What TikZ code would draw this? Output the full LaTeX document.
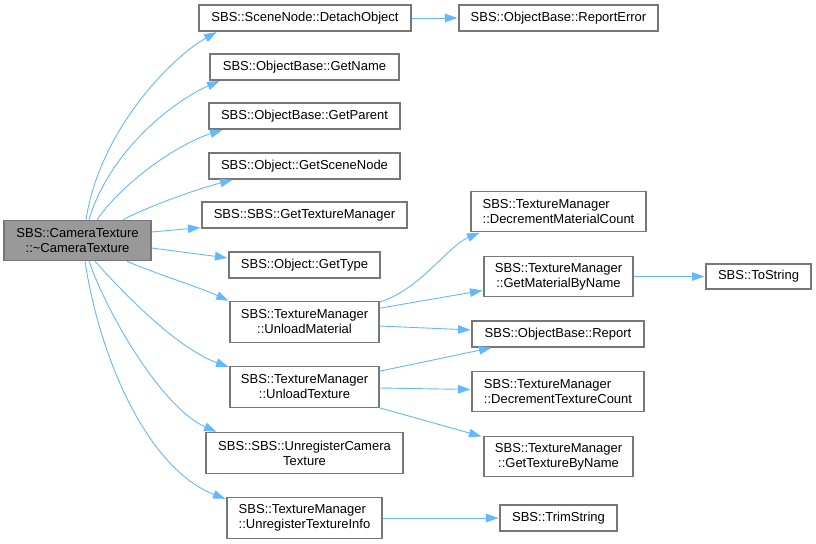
\documentclass[tikz,border=0pt]{standalone}
\usepackage{fontspec}
\setmainfont{Liberation Sans}
\usetikzlibrary{arrows.meta,calc}
\definecolor{edgeblue}{HTML}{63B8FF}
\definecolor{boxline}{HTML}{777777}
\definecolor{rootfill}{HTML}{999999}
\tikzset{
  fn/.style={draw=boxline, line width=1.1bp, fill=white, inner sep=0pt, minimum height=26bp, font=\fontsize{13bp}{15bp}\selectfont, text=black},
  fn2/.style={fn, minimum height=40.5bp, align=center},
  fnl/.style={fn, minimum height=40.5bp, align=left},
  call/.style={draw=edgeblue, line width=0.9bp, -{Triangle[length=12.5bp,width=8.5bp]}, shorten >=1bp}
}
\begin{document}
\begin{tikzpicture}[x=1bp,y=-1bp]
\useasboundingbox (0,0) rectangle (816,544);
% nodes
\node[fn2, fill=rootfill, minimum width=147bp] (A) at (77.5,240.5) {SBS::CameraTexture\\::\textasciitilde CameraTexture};
\node[fn, minimum width=212bp] (DO) at (305,18) {SBS::SceneNode::DetachObject};
\node[fn, minimum width=189bp] (GN) at (304.5,67) {SBS::ObjectBase::GetName};
\node[fn, minimum width=191bp] (GP) at (304.5,116) {SBS::ObjectBase::GetParent};
\node[fn, minimum width=191bp] (GSN) at (304.5,166) {SBS::Object::GetSceneNode};
\node[fn, minimum width=205bp] (GTM) at (304.5,215) {SBS::SBS::GetTextureManager};
\node[fn, minimum width=151bp] (GT) at (304.5,265) {SBS::Object::GetType};
\node[fn2, minimum width=149bp] (UM) at (304.5,322) {SBS::TextureManager\\::UnloadMaterial};
\node[fn2, minimum width=149bp] (UT) at (304.5,387) {SBS::TextureManager\\::UnloadTexture};
\node[fn2, minimum width=197bp] (UCT) at (304.5,453) {SBS::SBS::UnregisterCamera\\Texture};
\node[fnl, minimum width=155bp] (UTI) at (304.5,518) {SBS::TextureManager\\::UnregisterTextureInfo};
\node[fn, minimum width=199bp] (RE) at (558.5,18) {SBS::ObjectBase::ReportError};
\node[fnl, minimum width=175bp] (DMC) at (558.5,211.5) {SBS::TextureManager\\::DecrementMaterialCount};
\node[fn2, minimum width=149bp] (GMN) at (558.5,276.5) {SBS::TextureManager\\::GetMaterialByName};
\node[fn, minimum width=105bp, minimum height=25bp] (TS) at (758.5,276.5) {SBS::ToString};
\node[fn, minimum width=172bp] (R) at (558,334) {SBS::ObjectBase::Report};
\node[fnl, minimum width=172bp] (DTC) at (558,391.5) {SBS::TextureManager\\::DecrementTextureCount};
\node[fn2, minimum width=149bp] (GTBN) at (558.5,456.5) {SBS::TextureManager\\::GetTextureByName};
\node[fn, minimum width=117bp] (TRS) at (558.5,518) {SBS::TrimString};
% edges from root
\draw[call] ($(A.north)+(8.5,0)$) .. controls +(14,-90) and +(-46,26) .. ($(DO.south west)+(19,0)$);
\draw[call] ($(A.north)+(11.5,0)$) .. controls +(21,-70) and +(-46,20) .. ($(GN.south west)+(11,0)$);
\draw[call] ($(A.north)+(19.5,0)$) .. controls +(28,-40) and +(-44,14) .. ($(GP.south west)+(15,0)$);
\draw[call] ($(A.north)+(45.5,0)$) .. controls +(27,-14) and +(-38,10) .. ($(GSN.south west)+(25,0)$);
\draw[call] ($(A.east)+(0,-8.5)$) -- ($(GTM.south west)+(0,-1)$);
\draw[call] ($(A.east)+(0,7.5)$) -- ($(GT.west)+(0,-7)$);
\draw[call] ($(A.south)+(49.5,0)$) .. controls +(30,13) and +(-30,-14) .. (UM.north west);
\draw[call] ($(A.south)+(17.5,0)$) .. controls +(35,39) and +(-50,-18) .. ($(UT.north west)+(0,1)$);
\draw[call] ($(A.south)+(11.5,0)$) .. controls +(21,59) and +(-53,-23) .. ($(UCT.north west)+(12,0)$);
\draw[call] ($(A.south)+(7.5,0)$) .. controls +(15,99) and +(-78,-30) .. ($(UTI.north west)+(0,2)$);
% other edges
\draw[call] (DO.east) -- (RE.west);
\draw[call] ($(UM.north east)+(0,1)$) .. controls +(41,-13) and +(-33,14) .. ($(DMC.south west)+(10,0)$);
\draw[call] ($(UM.north east)+(0,7)$) -- ($(GMN.south west)+(0,-7)$);
\draw[call] ($(UM.east)+(0,4)$) -- ($(R.west)+(0,-4)$);
\draw[call] ($(UT.north east)+(0,5)$) -- ($(R.south west)+(21,0)$);
\draw[call] ($(UT.east)+(0,1)$) -- ($(DTC.west)+(0,-2)$);
\draw[call] (UT.south east) -- ($(GTBN.north west)+(-1,1)$);
\draw[call] (GMN.east) -- (TS.west);
\draw[call] (UTI.east) -- (TRS.west);
\end{tikzpicture}
\end{document}
